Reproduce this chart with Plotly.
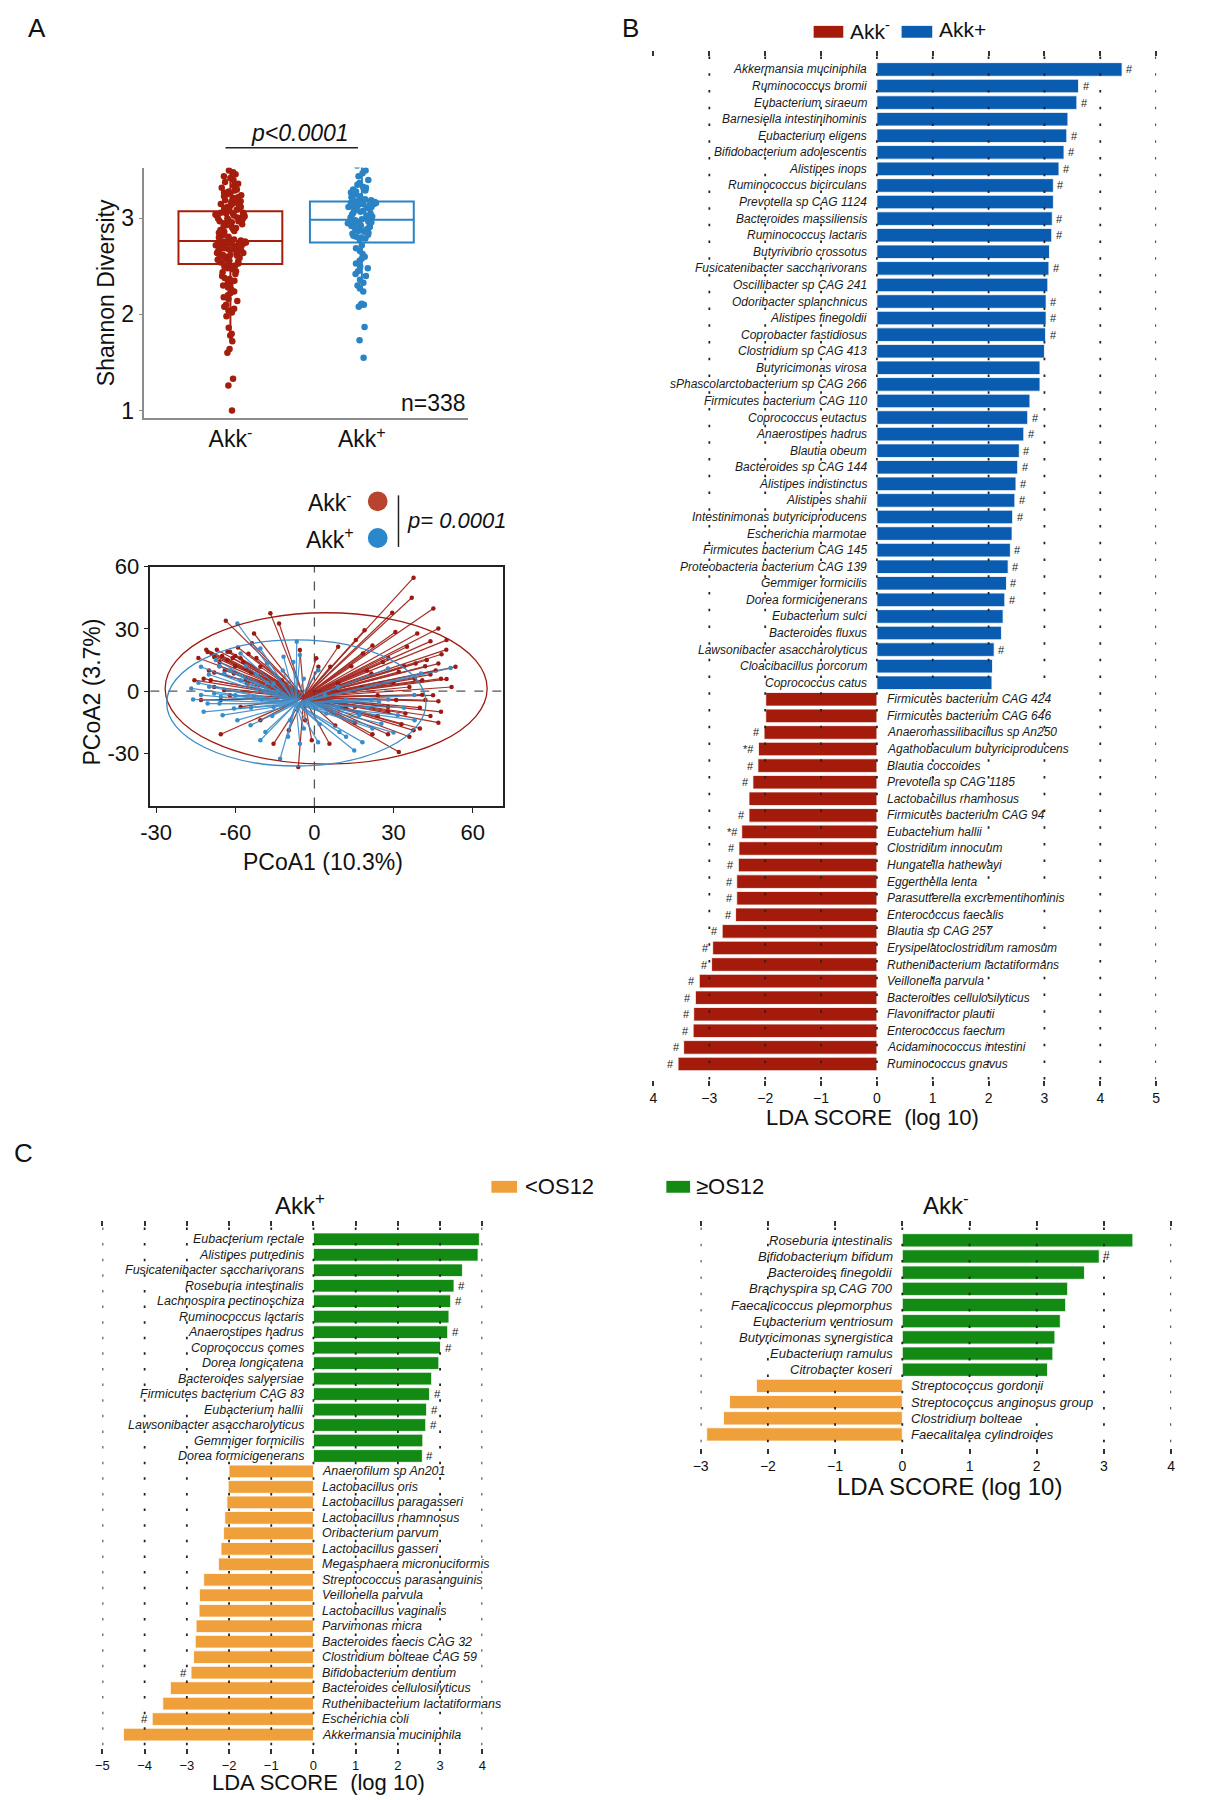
import plotly.graph_objects as go

# ------------------------------------------------------------------ data
shannon_akk_neg = [
    1.00, 1.26, 1.33, 1.60, 1.64, 1.72, 1.78, 1.80, 1.86, 1.98, 2.02, 2.04, 2.06, 2.08, 2.10, 2.14, 2.16, 2.18, 2.20,
    2.22, 2.24, 2.26, 2.28, 2.30, 2.31, 2.33, 2.35, 2.37, 2.38, 2.40, 2.42, 2.44, 2.45, 2.47, 2.48, 2.50, 2.51, 2.52,
    2.53, 2.54, 2.55, 2.56, 2.57, 2.57, 2.58, 2.59, 2.60, 2.60, 2.61, 2.62, 2.62, 2.63, 2.64, 2.64, 2.65, 2.66, 2.66,
    2.67, 2.68, 2.68, 2.69, 2.70, 2.70, 2.71, 2.71, 2.72, 2.72, 2.73, 2.73, 2.74, 2.74, 2.75, 2.75, 2.75, 2.76, 2.76,
    2.77, 2.78, 2.79, 2.80, 2.81, 2.82, 2.83, 2.84, 2.85, 2.86, 2.87, 2.88, 2.89, 2.90, 2.91, 2.92, 2.93, 2.94, 2.95,
    2.96, 2.97, 2.97, 2.98, 2.99, 3.00, 3.00, 3.01, 3.01, 3.02, 3.03, 3.03, 3.04, 3.04, 3.05, 3.05, 3.06, 3.06, 3.07,
    3.08, 3.09, 3.10, 3.10, 3.11, 3.12, 3.12, 3.13, 3.14, 3.14, 3.15, 3.15, 3.16, 3.17, 3.17, 3.18, 3.19, 3.20, 3.21,
    3.22, 3.23, 3.24, 3.25, 3.26, 3.27, 3.28, 3.29, 3.30, 3.32, 3.34, 3.36, 3.38, 3.40, 3.42, 3.44, 3.46, 3.48, 3.50]
shannon_akk_pos = [
    1.55, 1.73, 1.87, 2.08, 2.10, 2.10, 2.11, 2.24, 2.27, 2.30, 2.33, 2.36, 2.40, 2.42, 2.45, 2.48, 2.50, 2.53, 2.56,
    2.58, 2.60, 2.63, 2.66, 2.69, 2.72,
    2.78, 2.79, 2.80, 2.81, 2.82, 2.83, 2.84, 2.85, 2.86, 2.87, 2.88, 2.89, 2.90, 2.91, 2.92, 2.93, 2.93, 2.94, 2.95,
    2.95, 2.96, 2.96, 2.97, 2.97, 2.98,
    2.99, 3.00, 3.01, 3.02, 3.03, 3.04, 3.05, 3.06, 3.07, 3.08, 3.09, 3.10, 3.10, 3.11, 3.12, 3.12, 3.13, 3.14, 3.14,
    3.15, 3.15, 3.16, 3.16, 3.17, 3.17,
    3.18, 3.19, 3.20, 3.21, 3.22, 3.23, 3.24, 3.25, 3.26, 3.27, 3.28, 3.29, 3.30, 3.31, 3.32, 3.33, 3.35, 3.37, 3.40,
    3.44, 3.47, 3.50, 3.55, 3.58, 3.62]
box_groups = ["Akk<sup>-</sup>", "Akk<sup>+</sup>"]

pcoa_neg_x = [37.6, 36.9, 45.1, 29.5, -16.7, 47.0, 50.1, -33.6, -22.9, -13.4, 30.7, 15.7, 48.2, 53.5, 47.0, 38.4,
              40.9, 50.1, 40.9, 47.0, 47.0, 37.6, 32.0, 22.0, 5.7, -6.1, -15.5, -35.5, -40.5, -38.0, -33.0, -28.0,
              -23.7, -39.3, -34.2, -35.5, -28.0, -20.5, 0.7, -5.5, 1.5, 6.0, 9.0, 18.4, 21.6, 25.4, 31.0, 27.9, 15.4,
              34.5, 15.4, 7.9, 27.9, 42.1, 32.0, 42.6, 35.1, 39.0, 19.0, 9.0, -3.5, -9.7, -1.0, -30.5, -45.5, -43.0,
              -25.5, -20.5, -12.4, -36.0, -30.0, -26.0, -32.0, -38.0, 44.0, 36.0, 28.0, 24.0, 50.0, 44.0, 33.0, 40.0,
              -41.0, -39.0, -37.0, -35.0, -33.0, -31.0, -29.0, -27.0, -25.0, -36.0, -40.0, -34.0, -30.0, -24.0,
              -22.0, -44.0, -42.0, -38.0, -26.0, -32.0, 46.0, 42.0, 48.0, 52.0, 45.0, 38.0, 34.0, 30.0, 26.0, 22.0,
              20.0, 44.0, 40.0, 36.0, 48.0, 28.0, 24.0, 18.0, 14.0, 12.0]
pcoa_neg_y = [54.7, 45.0, 39.9, 37.8, 37.5, 30.2, 24.6, 33.9, 27.8, 32.6, 28.5, 24.6, 17.8, 11.7, 13.3, 13.3, 5.3,
              5.8, -1.7, -4.9, -15.2, -18.9, -29.4, -20.8, -25.4, -36.6, -25.4, -20.8, 18.9, 16.5, 15.0, 15.8, 23.1,
              5.3, 0.5, -4.3, -7.6, -14.0, 15.8, 19.8, 11.7, 11.7, 3.7, 18.2, 8.5, 3.7, -4.3, -7.6, -7.6, -10.8,
              -15.2, -16.6, -20.8, -4.3, 9.3, 15.0, 21.4, 27.8, 29.4, 21.4, -14.0, -18.9, -23.7, 8.5, 5.3, -4.3, 3.7,
              11.7, 5.3, 12.0, 17.0, 11.0, 19.0, 9.0, 8.0, 2.0, 16.0, -12.0, 20.0, 24.0, -16.0, -8.0,
              20.0, 18.0, 20.0, 17.0, 19.0, 16.0, 21.0, 14.0, 18.0, 14.0, 10.0, 10.0, 12.0, 9.0, 16.0, 16.0, 6.0,
              2.0, 6.0, -2.0, 10.0, 12.0, 6.0, 2.0, -2.0, 6.0, 12.0, 4.0, 14.0, 22.0, 10.0, -12.0, -18.0, -22.0,
              -10.0, -10.0, -2.0, 2.0, 12.0, -8.0]
pcoa_pos_x = [-43.0, -37.4, -39.9, -40.5, -34.8, -30.5, -24.2, -18.6, -13.0, -5.5, 1.4, 9.5, 15.1, 18.2, 25.4, 31.6,
              37.9, 51.6, 40.4, 27.9, 21.6, 9.0, 1.5, -6.7, -5.5, -11.7, -18.0, -20.5, -29.2, -28.0, -34.2, -28.0,
              -23.0, -15.5, -9.2, 4.5, 17.0, 24.5, 9.0, -15.5, -35.5, -20.5, -29.2, -38.0, -43.0, -46.7,
              -40.0, -44.0, -36.0, -32.0, -26.0, -22.0, -18.0, -12.0, -8.0, -4.0, 4.0, 12.0, 20.0, 28.0, 34.0, 38.0,
              30.0, 22.0, 12.0, 2.0, -4.0, -10.0, -16.0, -24.0, -30.0, -36.0, -46.0, -42.0, -20.0, -14.0]
pcoa_pos_y = [11.7, 15.0, 2.1, -6.0, -11.6, -8.4, -16.5, -19.7, -32.6, -25.4, -24.6, -19.7, -28.6, -24.6, -15.7,
              -11.6, -1.9, 11.1, 8.5, 10.9, -4.3, -7.6, 10.1, 23.8, 17.4, 16.6, 13.4, 20.6, 32.6, 18.2, 8.5, 5.3,
              -2.7, -7.6, -14.0, -10.8, -11.6, -5.1, 2.1, 3.7, -2.7, -23.7, -14.0, -1.1, -1.9, 1.3,
              8.0, 4.0, 12.0, 10.0, 12.0, 8.0, 4.0, 10.0, 14.0, 6.0, -2.0, -4.0, -8.0, -4.0, -8.0, -14.0, -20.0,
              -18.0, -22.0, -16.0, -18.0, -22.0, -12.0, -8.0, -2.0, -6.0, -4.0, -10.0, -4.0, 0.0]
pcoa_centroid_neg = [-4.0, -3.0]
pcoa_centroid_pos = [-7.0, -6.0]
ellipse_neg = [-56.6, 65.5, -35.2, 37.8]   # x0, x1, y0, y1
ellipse_pos = [-56.0, 42.3, -36.1, 24.7]
pcoa_xticks = [-60, -30, 0, 30, 60]
pcoa_xticktext = ["-30", "-60", "0", "30", "60"]
pcoa_yticks = [-30, 0, 30, 60]
pcoa_yticktext = ["-30", "0", "30", "60"]

b_pos_names = ["Akkermansia muciniphila", "Ruminococcus bromii", "Eubacterium siraeum", "Barnesiella intestinihominis",
               "Eubacterium eligens", "Bifidobacterium adolescentis", "Alistipes inops", "Ruminococcus bicirculans",
               "Prevotella sp CAG 1124", "Bacteroides massiliensis", "Ruminococcus lactaris", "Butyrivibrio crossotus",
               "Fusicatenibacter saccharivorans", "Oscillibacter sp CAG 241", "Odoribacter splanchnicus",
               "Alistipes finegoldii", "Coprobacter fastidiosus", "Clostridium sp CAG 413", "Butyricimonas virosa",
               "sPhascolarctobacterium sp CAG 266", "Firmicutes bacterium CAG 110", "Coprococcus eutactus",
               "Anaerostipes hadrus", "Blautia obeum", "Bacteroides sp CAG 144", "Alistipes indistinctus",
               "Alistipes shahii", "Intestinimonas butyriciproducens", "Escherichia marmotae",
               "Firmicutes bacterium CAG 145", "Proteobacteria bacterium CAG 139", "Gemmiger formicilis",
               "Dorea formicigenerans", "Eubacterium sulci", "Bacteroides fluxus", "Lawsonibacter asaccharolyticus",
               "Cloacibacillus porcorum", "Coprococcus catus"]
b_pos_vals = [4.39, 3.61, 3.58, 3.42, 3.40, 3.35, 3.26, 3.16, 3.16, 3.14, 3.13, 3.09, 3.08, 3.06, 3.03, 3.03, 3.02,
              3.00, 2.92, 2.92, 2.74, 2.70, 2.63, 2.55, 2.52, 2.49, 2.47, 2.43, 2.42, 2.39, 2.35, 2.32, 2.29, 2.26,
              2.23, 2.10, 2.07, 2.06]
b_pos_marks = ["#", "#", "#", "", "#", "#", "#", "#", "", "#", "#", "", "#", "", "#", "#", "#", "", "", "", "", "#",
               "#", "#", "#", "#", "#", "#", "", "#", "#", "#", "#", "", "", "#", "", ""]
b_neg_names = ["Firmicutes bacterium CAG 424", "Firmicutes bacterium CAG 646", "Anaeromassilibacillus sp An250",
               "Agathobaculum butyriciproducens", "Blautia coccoides", "Prevotella sp CAG 1185",
               "Lactobacillus rhamnosus", "Firmicutes bacterium CAG 94", "Eubacterium hallii", "Clostridium innocuum",
               "Hungatella hathewayi", "Eggerthella lenta", "Parasutterella excrementihominis",
               "Enterococcus faecalis", "Blautia sp CAG 257", "Erysipelatoclostridium ramosum",
               "Ruthenibacterium lactatiformans", "Veillonella parvula", "Bacteroides cellulosilyticus",
               "Flavonifractor plautii", "Enterococcus faecium", "Acidaminococcus intestini", "Ruminococcus gnavus"]
b_neg_vals = [-1.99, -1.99, -2.02, -2.12, -2.13, -2.22, -2.29, -2.29, -2.42, -2.47, -2.48, -2.51, -2.51, -2.53,
              -2.77, -2.94, -2.96, -3.18, -3.25, -3.28, -3.29, -3.46, -3.56]
b_neg_marks = ["", "", "#", "*#", "#", "#", "", "#", "*#", "#", "#", "#", "#", "#", "#", "#", "#", "#", "#", "#", "#",
               "#", "#"]
b_ticks = [-4, -3, -2, -1, 0, 1, 2, 3, 4, 5]
b_ticktext = ["4", "\u22123", "\u22122", "\u22121", "0", "1", "2", "3", "4", "5"]
b_grid = [-3, -2, -1, 0, 1, 2, 3, 4, 5]

c1_pos_names = ["Eubacterium rectale", "Alistipes putredinis", "Fusicatenibacter saccharivorans",
                "Roseburia intestinalis", "Lachnospira pectinoschiza", "Ruminococcus lactaris", "Anaerostipes hadrus",
                "Coprococcus comes", "Dorea longicatena", "Bacteroides salyersiae", "Firmicutes bacterium CAG 83",
                "Eubacterium hallii", "Lawsonibacter asaccharolyticus", "Gemmiger formicilis", "Dorea formicigenerans"]
c1_pos_vals = [3.93, 3.90, 3.53, 3.33, 3.25, 3.21, 3.18, 3.01, 2.97, 2.80, 2.75, 2.68, 2.66, 2.59, 2.58]
c1_pos_marks = ["", "", "", "#", "#", "", "#", "#", "", "", "#", "#", "#", "", "#"]
c1_neg_names = ["Anaerofilum sp An201", "Lactobacillus oris", "Lactobacillus paragasseri", "Lactobacillus rhamnosus",
                "Oribacterium parvum", "Lactobacillus gasseri", "Megasphaera micronuciformis",
                "Streptococcus parasanguinis", "Veillonella parvula", "Lactobacillus vaginalis", "Parvimonas micra",
                "Bacteroides faecis CAG 32", "Clostridium bolteae CAG 59", "Bifidobacterium dentium",
                "Bacteroides cellulosilyticus", "Ruthenibacterium lactatiformans", "Escherichia coli",
                "Akkermansia muciniphila"]
c1_neg_vals = [-2.00, -2.02, -2.05, -2.10, -2.13, -2.19, -2.25, -2.60, -2.70, -2.71, -2.78, -2.80, -2.84, -2.90,
               -3.39, -3.57, -3.82, -4.50]
c1_neg_marks = ["", "", "", "", "", "", "", "", "", "", "", "", "", "#", "", "", "#", ""]
c1_ticks = [-5, -4, -3, -2, -1, 0, 1, 2, 3, 4]
c1_ticktext = ["\u22125", "\u22124", "\u22123", "\u22122", "\u22121", "0", "1", "2", "3", "4"]

c2_pos_names = ["Roseburia intestinalis", "Bifidobacterium bifidum", "Bacteroides finegoldii", "Brachyspira sp CAG 700",
                "Faecalicoccus pleomorphus", "Eubacterium ventriosum", "Butyricimonas synergistica",
                "Eubacterium ramulus", "Citrobacter koseri"]
c2_pos_vals = [3.43, 2.93, 2.71, 2.46, 2.43, 2.35, 2.27, 2.24, 2.16]
c2_pos_marks = ["", "#", "", "", "", "", "", "", ""]
c2_neg_names = ["Streptococcus gordonii", "Streptococcus anginosus group", "Clostridium bolteae",
                "Faecalitalea cylindroides"]
c2_neg_vals = [-2.17, -2.57, -2.66, -2.91]
c2_neg_marks = ["", "", "", ""]
c2_ticks = [-3, -2, -1, 0, 1, 2, 3, 4]
c2_ticktext = ["\u22123", "\u22122", "\u22121", "0", "1", "2", "3", "4"]

# ------------------------------------------------------------------ styling / geometry
FONT = "Liberation Sans, Arial, Helvetica, sans-serif"
RED_BOX, BLUE_BOX = "#A51D0C", "#2A83C4"
RED_LINE, BLUE_LINE = "#9C1A12", "#3A8CC8"
RED_BAR, BLUE_BAR = "#A41B0B", "#0A5CB0"
ORANGE, GREEN = "#F0A03A", "#138A13"

W, H, OFF = 1215, 1800, 0


def X(p):
    return (p - OFF) / W


def Y(p):
    return 1 - (p - OFF) / H


fig = go.Figure()
ann = []
shapes = []


def text(x, y, s, size, xanchor="center", yanchor="middle", color="#111"):
    ann.append(dict(x=X(x), y=Y(y), xref="paper", yref="paper", text=s, showarrow=False, xanchor=xanchor,
                    yanchor=yanchor, font=dict(size=size, color=color, family=FONT)))


def pline(x0, y0, x1, y1, color="#111", width=1.5):
    shapes.append(dict(type="line", xref="paper", yref="paper", x0=X(x0), y0=Y(y0), x1=X(x1), y1=Y(y1),
                       line=dict(color=color, width=width)))


def prect(x0, y0, x1, y1, color):
    shapes.append(dict(type="rect", xref="paper", yref="paper", x0=X(x0), y0=Y(y1), x1=X(x1), y1=Y(y0),
                       fillcolor=color, line=dict(width=0)))


def pcircle(cx, cy, r, color):
    shapes.append(dict(type="circle", xref="paper", yref="paper", x0=X(cx - r), x1=X(cx + r), y0=Y(cy + r),
                       y1=Y(cy - r), fillcolor=color, line=dict(width=0)))


layout_axes = {}

# ------------------------------------------------------------------ Panel A : box plot
for i, (vals, col) in enumerate([(shannon_akk_neg, RED_BOX), (shannon_akk_pos, BLUE_BOX)]):
    fig.add_trace(go.Box(y=vals, x0=i, width=0.79, boxpoints="all", jitter=0.3, pointpos=0, whiskerwidth=0,
                         marker=dict(color=col, size=6.5), line=dict(color=col, width=2),
                         fillcolor="rgba(0,0,0,0)", xaxis="x", yaxis="y", hoverinfo="y"))
axis_gray = "#8c8c8c"
layout_axes["xaxis"] = dict(domain=[X(136), X(463)], range=[-0.654, 1.805], tickvals=[0, 1], ticktext=box_groups,
                            showline=True, linecolor=axis_gray, linewidth=1.5, ticks="", showgrid=False,
                            zeroline=False, tickfont=dict(size=23, color="#111"), anchor="y")
layout_axes["yaxis"] = dict(domain=[Y(410), Y(157)], range=[0.92, 3.53], tickvals=[1, 2, 3], showline=True,
                            linecolor=axis_gray, linewidth=1.5, ticks="outside", ticklen=4, tickcolor=axis_gray,
                            showgrid=False, zeroline=False, tickfont=dict(size=23, color="#111"), anchor="x")
text(97, 283, "Shannon Diversity", 23)
ann[-1]["textangle"] = -90
pline(218, 137, 352, 137, "#222", 1.5)
text(293, 122, "<i>p<0.0001</i>", 23)
text(463, 395, "n=338", 23, xanchor="right")
text(16, 16, "A", 26, xanchor="left")

# ------------------------------------------------------------------ Panel A : PCoA
def spokes(xs, ys, c):
    lx, ly = [], []
    for a, b in zip(xs, ys):
        lx += [c[0], a, None]
        ly += [c[1], b, None]
    return lx, ly


for xs, ys, cen, lc in [(pcoa_neg_x, pcoa_neg_y, pcoa_centroid_neg, RED_LINE),
                        (pcoa_pos_x, pcoa_pos_y, pcoa_centroid_pos, BLUE_LINE)]:
    lx, ly = spokes(xs, ys, cen)
    fig.add_trace(go.Scatter(x=lx, y=ly, mode="lines", line=dict(color=lc, width=1.2), opacity=0.9,
                             xaxis="x2", yaxis="y2", hoverinfo="skip"))
    fig.add_trace(go.Scatter(x=xs, y=ys, mode="markers", marker=dict(color=lc, size=4.5),
                             xaxis="x2", yaxis="y2"))
for e, lc in [(ellipse_neg, RED_LINE), (ellipse_pos, BLUE_LINE)]:
    shapes.append(dict(type="circle", xref="x2", yref="y2", x0=e[0], x1=e[1], y0=e[2], y1=e[3],
                       line=dict(color=lc, width=1.3), layer="above"))
shapes.append(dict(type="line", xref="x2", yref="y2 domain", x0=0, x1=0, y0=0, y1=1,
                   line=dict(color="#555", width=1.3, dash="dash"), layer="below"))
shapes.append(dict(type="line", xref="x2 domain", yref="y2", x0=0, x1=1, y0=0, y1=0,
                   line=dict(color="#555", width=1.3, dash="dash"), layer="below"))
layout_axes["xaxis2"] = dict(domain=[X(142), X(499)], range=[-62.2, 71.6], tickvals=pcoa_xticks,
                             ticktext=pcoa_xticktext, showline=True, mirror=True, linecolor="#222", linewidth=1.5,
                             ticks="outside", ticklen=5, tickcolor="#222", showgrid=False, zeroline=False,
                             tickfont=dict(size=22, color="#111"), anchor="y2")
layout_axes["yaxis2"] = dict(domain=[Y(802), Y(560)], range=[-55.6, 60], tickvals=pcoa_yticks,
                             ticktext=pcoa_yticktext, showline=True,
                             mirror=True, linecolor="#222", linewidth=1.5, ticks="outside", ticklen=5,
                             tickcolor="#222", showgrid=False, zeroline=False, tickfont=dict(size=22, color="#111"),
                             anchor="x2")
text(317, 858, "PCoA1 (10.3%)", 23)
text(82, 687, "PCoA2 (3.7%)", 23)
ann[-1]["textangle"] = -90
text(348, 494, "Akk<sup>-</sup>", 23, xanchor="right")
text(350, 531, "Akk<sup>+</sup>", 23, xanchor="right")
pcircle(372, 494, 10, "#B8432F")
pcircle(372, 531, 10, "#2B87CB")
pline(393, 488, 393, 540, "#222", 1.5)
text(400, 513, "<i>p= 0.0001</i>", 22, xanchor="left")


# ------------------------------------------------------------------ LDA panels
def lda_panel(n, g, pos_names, pos_vals, pos_marks, neg_names, neg_vals, neg_marks, pos_color, neg_color,
              ticks, ticktext, grid, name_size, gap, tick_size):
    npos = len(pos_names)
    rows_pos = list(range(npos))
    rows_neg = list(range(npos, npos + len(neg_names)))
    last = npos + len(neg_names) - 1
    rowpx = (g["rowlast"] - g["row0"]) / last
    yr = [last + (g["ybot"] - g["rowlast"]) / rowpx, -(g["row0"] - g["ytop"]) / rowpx]
    fig.add_trace(go.Bar(x=pos_vals, y=rows_pos, orientation="h", width=0.82,
                         marker=dict(color=pos_color, line=dict(color="white", width=0.8)),
                         xaxis=f"x{n}", yaxis=f"y{n}"))
    fig.add_trace(go.Bar(x=neg_vals, y=rows_neg, orientation="h", width=0.82,
                         marker=dict(color=neg_color, line=dict(color="white", width=0.8)),
                         xaxis=f"x{n}", yaxis=f"y{n}"))
    for r, nm, v, m in zip(rows_pos, pos_names, pos_vals, pos_marks):
        ann.append(dict(x=0, y=r, xref=f"x{n}", yref=f"y{n}", text=f"<i>{nm}</i>", showarrow=False,
                        xanchor="right", xshift=-gap, font=dict(size=name_size, color="#1a1a1a", family=FONT)))
        if m:
            ann.append(dict(x=v, y=r, xref=f"x{n}", yref=f"y{n}", text=m, showarrow=False, xanchor="left",
                            xshift=2, font=dict(size=name_size - 1, color="#1a1a1a", family=FONT)))
    for r, nm, v, m in zip(rows_neg, neg_names, neg_vals, neg_marks):
        ann.append(dict(x=0, y=r, xref=f"x{n}", yref=f"y{n}", text=f"<i>{nm}</i>", showarrow=False,
                        xanchor="left", xshift=gap, font=dict(size=name_size, color="#1a1a1a", family=FONT)))
        if m:
            ann.append(dict(x=v, y=r, xref=f"x{n}", yref=f"y{n}", text=m, showarrow=False, xanchor="right",
                            xshift=-2, font=dict(size=name_size - 1, color="#1a1a1a", family=FONT)))
    dash = f"2.5px,{rowpx - 2.5:.2f}px"
    for gv in grid:
        shapes.append(dict(type="line", xref=f"x{n}", yref=f"y{n} domain", x0=gv, x1=gv, y0=1, y1=0,
                           line=dict(color="#222", width=1.8, dash=dash), layer="above"))
    layout_axes[f"xaxis{n}"] = dict(domain=[X(g["x0"]), X(g["x1"])], range=g["xrange"], tickvals=ticks,
                                    ticktext=ticktext, showline=False, showgrid=False, zeroline=False,
                                    ticks="outside", ticklen=5, tickwidth=1.5, tickcolor="#333", mirror="ticks",
                                    tickfont=dict(size=tick_size, color="#111"), anchor=f"y{n}")
    layout_axes[f"yaxis{n}"] = dict(domain=[Y(g["ybot"]), Y(g["ytop"])], range=yr, visible=False,
                                    anchor=f"x{n}")


lda_panel(3, dict(x0=651, x1=1159.5, xrange=[-4, 5], ytop=45, ybot=1078, row0=58, rowlast=1062),
          b_pos_names, b_pos_vals, b_pos_marks, b_neg_names, b_neg_vals, b_neg_marks, BLUE_BAR, RED_BAR,
          b_ticks, b_ticktext, b_grid, 12, 8, 14)
lda_panel(4, dict(x0=93.5, x1=477.8, xrange=[-5, 4], ytop=1227, ybot=1753, row0=1239, rowlast=1739),
          c1_pos_names, c1_pos_vals, c1_pos_marks, c1_neg_names, c1_neg_vals, c1_neg_marks, GREEN, ORANGE,
          c1_ticks, c1_ticktext, c1_ticks, 12.5, 7, 13)
lda_panel(5, dict(x0=698.7, x1=1174.7, xrange=[-3, 4], ytop=1227, ybot=1450, row0=1240, rowlast=1436),
          c2_pos_names, c2_pos_vals, c2_pos_marks, c2_neg_names, c2_neg_vals, c2_neg_marks, GREEN, ORANGE,
          c2_ticks, c2_ticktext, c2_ticks, 13, 7, 14)

# Panel B legend / titles
text(628, 16, "B", 26)
prect(813, 14, 843, 26, RED_BAR)
text(848, 18, "Akk<sup>-</sup>", 21, xanchor="left")
prect(902, 14, 933, 26, BLUE_BAR)
text(938, 18, "Akk+", 21, xanchor="left")
text(873, 1116, "LDA SCORE\u00a0\u00a0(log 10)", 22)

# Panel C legend / titles
text(14, 1152, "C", 26)
prect(487, 1180, 513, 1192, ORANGE)
text(519, 1186, "<OS12", 22, xanchor="left")
prect(664, 1180, 688, 1192, GREEN)
text(692, 1186, "\u2265OS12", 22, xanchor="left")
text(293, 1203, "Akk<sup>+</sup>", 24)
text(947, 1203, "Akk<sup>-</sup>", 24)
text(312, 1787, "LDA SCORE\u00a0\u00a0(log 10)", 22)
text(950, 1489, "LDA SCORE (log 10)", 24)

fig.update_layout(width=W, height=H, margin=dict(l=0, r=0, t=0, b=0), paper_bgcolor="white",
                  plot_bgcolor="rgba(0,0,0,0)", showlegend=False, boxmode="overlay", barmode="overlay",
                  font=dict(family=FONT, color="#111"), annotations=ann, shapes=shapes, **layout_axes)
fig.write_html("out.html", config={"displayModeBar": False},
               post_script="document.body.style.margin='0px';document.body.style.overflow='hidden';")
